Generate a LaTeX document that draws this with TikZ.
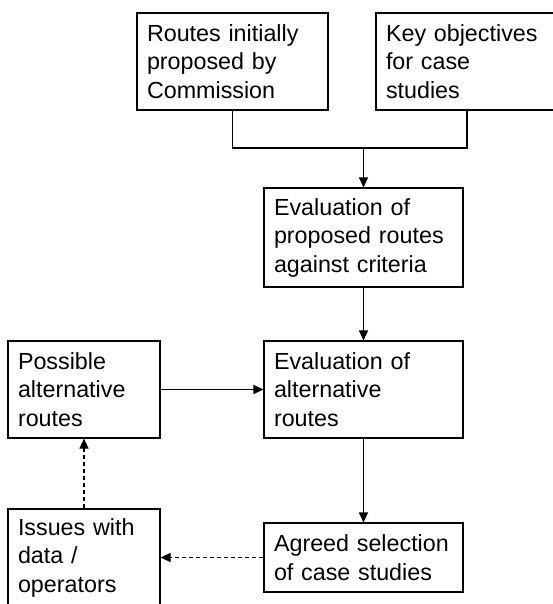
\documentclass[tikz,border=0pt]{standalone}
\usepackage{fontspec}
\setmainfont{Liberation Sans}
\usetikzlibrary{arrows.meta,positioning}

\tikzset{
  stepbox/.style={draw, line width=1.1pt, align=left, inner xsep=10pt, inner ysep=0pt,
    font=\fontsize{23.3}{28.5}\selectfont},
  flow/.style={line width=1.1pt, -{Triangle[length=10pt,width=9pt]}},
  dflow/.style={flow, dash pattern=on 4pt off 3pt},
}

\begin{document}
\begin{tikzpicture}[x=1pt,y=-1pt]
  \useasboundingbox (0,0) rectangle (552,604);

  \draw (232.5,61.5) node[stepbox, text width=171pt, minimum height=97pt] (routes) {Routes initially\\proposed by\\Commission};
  \draw (467,61.5) node[stepbox, text width=162pt, minimum height=97pt] (keyobj) {Key objectives\\for case\\studies};
    \draw (363.5,237.5) node[stepbox, text width=179pt, minimum height=99pt] (evalprop) {Evaluation of\\proposed routes\\against criteria};
    \draw (363.5,389.5) node[stepbox, text width=179pt, minimum height=97pt] (evalalt) {Evaluation of\\alternative\\routes};
     \draw (84,389.5) node[stepbox, text width=132pt, minimum height=97pt] (possible) {Possible\\alternative\\routes};
     \draw (363.5,557.5) node[stepbox, text width=179pt, minimum height=69pt] (agreed) {Agreed selection\\of case studies};
     \draw (84,557.5) node[stepbox, text width=132pt, minimum height=97pt] (issues) {Issues with\\data /\\operators};

  \coordinate (join) at (363.5,148);
      \draw[line width=1.1pt] (routes.south) |- (join) -| (keyobj.south);
      \path[flow] (join) edge (evalprop);
      \path[flow] (evalprop) edge (evalalt);
      \path[flow] (possible) edge (evalalt);
      \path[flow] (evalalt) edge (agreed);
      \path[dflow] (agreed) edge (issues);
      \path[dflow] (issues) edge (possible);
\end{tikzpicture}
\end{document}
